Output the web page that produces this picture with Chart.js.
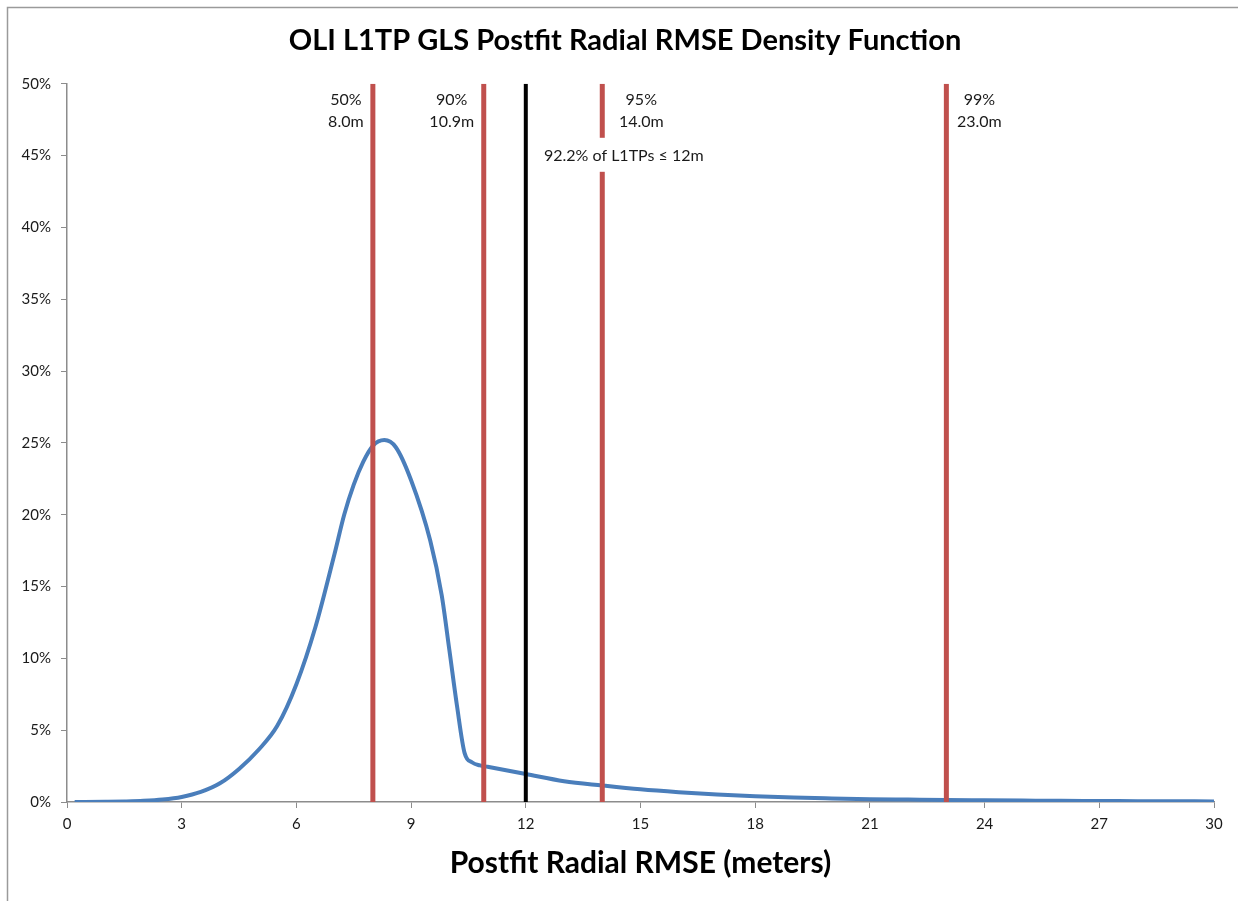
<!DOCTYPE html>
<html>
<head>
<meta charset="utf-8">
<script src="https://cdn.jsdelivr.net/npm/chart.js@4/dist/chart.umd.min.js"></script>
<style>
  html, body { margin: 0; padding: 0; background: #fff; }
  #wrap { width: 1238px; height: 901px; position: relative; }
</style>
</head>
<body>
<div id="wrap"><canvas id="c" width="1238" height="901"></canvas></div>
<script>
// ---- Data ----
const rmseX = [0.2, 1, 1.5, 2, 2.5, 3, 3.5, 4, 4.5, 5, 5.5, 6, 6.5, 7, 7.25, 7.5, 7.75, 8, 8.3, 8.6, 9, 9.5, 9.8, 10, 10.2, 10.4, 10.6, 10.8, 11, 12, 13, 14, 15, 16, 17, 18, 19, 20, 21, 22, 23, 24, 25, 26, 27, 28, 29, 30];
const densityPct = [0.0, 0.02, 0.04, 0.08, 0.17, 0.35, 0.7, 1.3, 2.3, 3.6, 5.3, 8.2, 12.2, 17.3, 20.0, 22.1, 23.7, 24.8, 25.2, 24.7, 22.4, 18.2, 14.4, 10.6, 6.7, 3.4, 2.75, 2.55, 2.45, 1.95, 1.45, 1.15, 0.88, 0.68, 0.52, 0.4, 0.31, 0.25, 0.2, 0.17, 0.14, 0.12, 0.1, 0.08, 0.07, 0.06, 0.05, 0.04];

const percentileX = [8.0, 10.9, 14.0, 23.0];
const percentileNames = ['50%', '90%', '95%', '99%'];
const percentileValues = ['8.0m', '10.9m', '14.0m', '23.0m'];

const thresholdX = 12;
const thresholdText = '92.2% of L1TPs \u2264 12m';

const xTicks = [0, 3, 6, 9, 12, 15, 18, 21, 24, 27, 30];
const yTicks = [0, 5, 10, 15, 20, 25, 30, 35, 40, 45, 50];

const titleText = 'OLI L1TP GLS Postfit Radial RMSE Density Function';
const xTitleText = 'Postfit Radial RMSE (meters)';

// ---- Styling ----
const FONT = 'Lato, "Open Sans", "Liberation Sans", sans-serif';
const RED = '#C0504D';
const BLUE = '#4A7EBB';
const labelOffsets = [-27, -32, 39, 33]; // pixel offsets of percentile labels from their line

const curveData = rmseX.map((x, i) => ({ x: x, y: densityPct[i] }));
const datasets = [{
  label: 'density',
  data: curveData,
  borderColor: BLUE,
  borderWidth: 4,
  pointRadius: 0,
  tension: 0.4,
  cubicInterpolationMode: 'monotone',
  fill: false,
  order: 5
}];
percentileX.forEach((x, i) => {
  datasets.push({
    label: percentileNames[i],
    data: [{ x: x, y: yTicks[0] }, { x: x, y: yTicks[yTicks.length - 1] }],
    borderColor: RED, borderWidth: 5, pointRadius: 0, order: 2
  });
});
datasets.push({
  label: 'threshold',
  data: [{ x: thresholdX, y: yTicks[0] }, { x: thresholdX, y: yTicks[yTicks.length - 1] }],
  borderColor: '#000000', borderWidth: 4, pointRadius: 0, order: 1
});

const framePlugin = {
  id: 'frame',
  beforeDraw(chart) {
    const ctx = chart.ctx;
    ctx.save();
    ctx.fillStyle = '#fff';
    ctx.fillRect(0, 0, chart.width, chart.height);
    ctx.strokeStyle = '#9a9a9a';
    ctx.lineWidth = 1.5;
    ctx.beginPath();
    ctx.moveTo(7.5, chart.height);
    ctx.lineTo(7.5, 7.5);
    ctx.lineTo(chart.width, 7.5);
    ctx.stroke();
    ctx.restore();
  }
};

const labelPlugin = {
  id: 'labels',
  afterDatasetsDraw(chart) {
    const ctx = chart.ctx;
    const xs = chart.scales.x, ys = chart.scales.y;
    const top = ys.getPixelForValue(yTicks[yTicks.length - 1]);
    ctx.save();
    ctx.font = '16px ' + FONT;
    ctx.textAlign = 'center';
    ctx.textBaseline = 'middle';
    ctx.fillStyle = '#1a1a1a';
    percentileX.forEach((x, i) => {
      const px = xs.getPixelForValue(x) + labelOffsets[i];
      ctx.fillText(percentileNames[i], px, top + 16);
      ctx.fillText(percentileValues[i], px, top + 38);
    });
    // threshold label with white background box
    const tx = xs.getPixelForValue(thresholdX) + 98;
    const ty = top + 72;
    const w = ctx.measureText(thresholdText).width;
    ctx.fillStyle = '#fff';
    ctx.fillRect(tx - w / 2 - 4, ty - 18, w + 8, 34);
    ctx.fillStyle = '#1a1a1a';
    ctx.fillText(thresholdText, tx, ty);
    ctx.restore();
  }
};

new Chart(document.getElementById('c'), {
  type: 'line',
  data: { datasets: datasets },
  plugins: [framePlugin, labelPlugin],
  options: {
    responsive: false,
    animation: false,
    devicePixelRatio: 1,
    layout: { padding: { left: 12, right: 0, top: 0, bottom: 0 } },
    plugins: {
      legend: { display: false },
      tooltip: { enabled: false },
      title: {
        display: true,
        text: titleText,
        color: '#000',
        font: { family: FONT, size: 29, weight: 'bold' },
        padding: { top: 23, bottom: 26 }
      }
    },
    scales: {
      x: {
        type: 'linear',
        min: xTicks[0],
        max: xTicks[xTicks.length - 1],
        afterBuildTicks: (s) => { s.ticks = xTicks.map(v => ({ value: v })); },
        afterFit: (s) => { s.height = 99; },
        ticks: { color: '#1a1a1a', font: { family: FONT, size: 15 }, padding: 7, maxRotation: 0 },
        grid: { display: true, drawOnChartArea: false, drawTicks: true, tickLength: 6, color: '#8c8c8c' },
        border: { display: true, color: '#8c8c8c', width: 1.5 },
        title: {
          display: true,
          text: xTitleText,
          color: '#000',
          font: { family: FONT, size: 30, weight: 'bold' },
          padding: { top: 10, bottom: 20 }
        }
      },
      y: {
        type: 'linear',
        min: yTicks[0],
        max: yTicks[yTicks.length - 1],
        afterBuildTicks: (s) => { s.ticks = yTicks.map(v => ({ value: v })); },
        afterFit: (s) => { s.width = 55; },
        ticks: { color: '#1a1a1a', font: { family: FONT, size: 15 }, padding: 10, callback: (v) => v + '%' },
        grid: { display: true, drawOnChartArea: false, drawTicks: true, tickLength: 6, color: '#8c8c8c' },
        border: { display: true, color: '#8c8c8c', width: 1.5 }
      },
      yRightSpace: {
        type: 'linear',
        position: 'right',
        min: 0,
        max: 1,
        afterFit: (s) => { s.width = 24; },
        ticks: { display: false },
        grid: { display: false, drawTicks: false },
        border: { display: false }
      }
    }
  }
});
</script>
</body>
</html>
